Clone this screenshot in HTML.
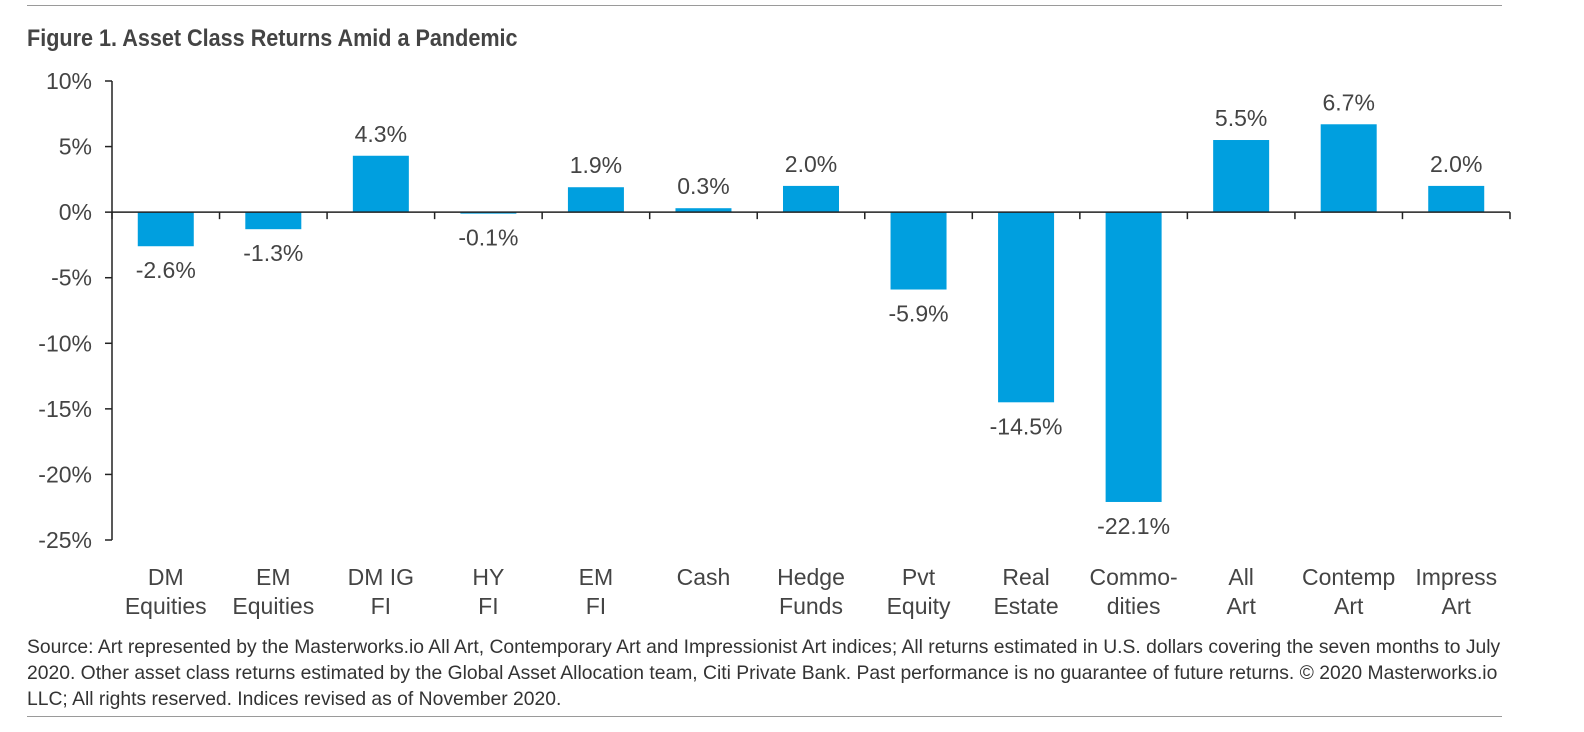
<!DOCTYPE html>
<html><head><meta charset="utf-8"><style>
body{margin:0;width:1584px;height:732px;background:#fff;font-family:"Liberation Sans",sans-serif;overflow:hidden;position:relative}
.rule{position:absolute;left:27px;width:1475px;height:1px;background:#9a9a9a}
#title{position:absolute;left:27px;top:25px;font-weight:bold;font-size:24px;color:#444;transform:scaleX(0.9);transform-origin:left top;white-space:nowrap}
#note{position:absolute;left:27px;top:634px;font-size:19.5px;line-height:26px;color:#333;transform:scaleX(0.99);transform-origin:left top;width:1700px;white-space:nowrap}
</style></head><body>
<div class="rule" style="top:5px"></div>
<div id="title">Figure 1. Asset Class Returns Amid a Pandemic</div>
<svg id="chart" width="1584" height="732" style="position:absolute;left:0;top:0"></svg>
<div id="note">Source: Art represented by the Masterworks.io All Art, Contemporary Art and Impressionist Art indices; All returns estimated in U.S. dollars covering the seven months to July<br>2020. Other asset class returns estimated by the Global Asset Allocation team, Citi Private Bank. Past performance is no guarantee of future returns. © 2020 Masterworks.io<br>LLC; All rights reserved. Indices revised as of November 2020.</div>
<div class="rule" style="top:716px"></div>
<script>
const categories=[["DM","Equities"],["EM","Equities"],["DM IG","FI"],["HY","FI"],["EM","FI"],["Cash",""],["Hedge","Funds"],["Pvt","Equity"],["Real","Estate"],["Commo-","dities"],["All","Art"],["Contemp","Art"],["Impress","Art"]];
const values=[-2.6,-1.3,4.3,-0.1,1.9,0.3,2.0,-5.9,-14.5,-22.1,5.5,6.7,2.0];
const yTicks=[10,5,0,-5,-10,-15,-20,-25];
const NS="http://www.w3.org/2000/svg";
const svg=document.getElementById('chart');
const x0=112,x1=1510,yMax=10,yMin=-25,yTop=81,yBot=540;
const y=v=>yTop+(yMax-v)/(yMax-yMin)*(yBot-yTop);
const step=(x1-x0)/categories.length;
const xc=i=>x0+step*(i+0.5);
function mk(t,a){const e=document.createElementNS(NS,t);for(const k in a)e.setAttribute(k,a[k]);svg.appendChild(e);return e;}
let e=mk('line',{x1:x0,x2:x0,y1:y(yMax),y2:y(yMin),stroke:'#222','stroke-width':1.5});


yTicks.forEach(t=>{
 mk('line',{x1:x0-7,x2:x0,y1:y(t),y2:y(t),stroke:'#222','stroke-width':1.5});
 const tx=mk('text',{x:x0-20,y:y(t)+8,'text-anchor':'end','font-size':23,fill:'#444'});
 tx.textContent=t+'%';
 
 
});
values.forEach((v,i)=>{
 const bw=56,top=Math.min(y(v),y(0)),h=Math.max(Math.abs(y(v)-y(0)),1.5);
 const r=mk('rect',{x:xc(i)-bw/2,y:top,width:bw,height:h,fill:'#009fdf'});
 
 
 const ly=v>=0?y(v)-14:y(v)+32;
 const l=mk('text',{x:xc(i),y:ly,'text-anchor':'middle','font-size':23,fill:'#444'});
 l.textContent=v.toFixed(1)+'%';
 
 
 categories[i].forEach((s,j)=>{
  const c=mk('text',{x:xc(i),y:585+j*29,'text-anchor':'middle','font-size':23,fill:'#444'});
  c.textContent=s;
  
  
 });
});
e=mk('line',{x1:x0,x2:x1,y1:y(0),y2:y(0),stroke:'#222','stroke-width':1.5});


for(let i=0;i<=categories.length;i++)mk('line',{x1:x0+step*i,x2:x0+step*i,y1:y(0),y2:y(0)+7,stroke:'#222','stroke-width':1.5});
</script>
</body></html>
